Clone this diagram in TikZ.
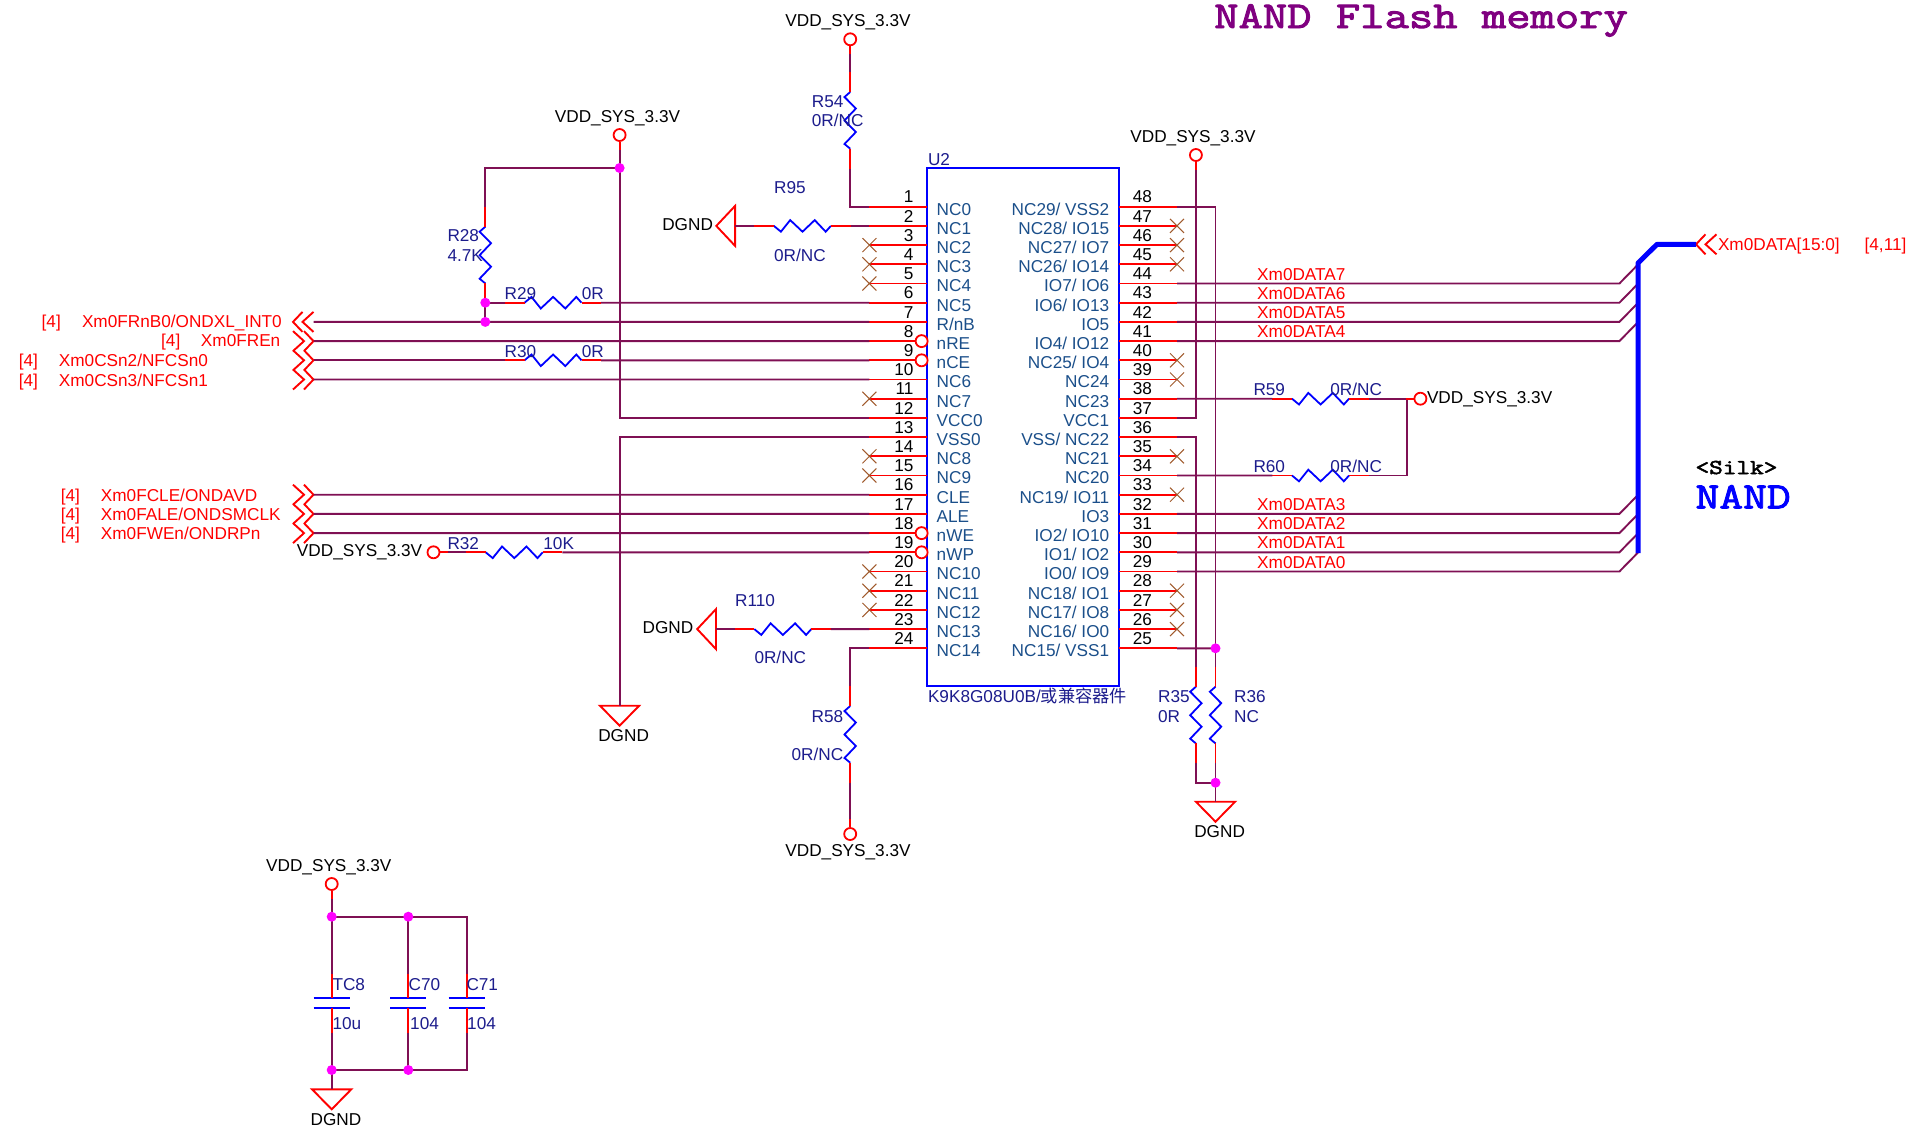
\documentclass[tikz,border=0pt]{standalone}
\usepackage{fontspec}
\setmainfont{Liberation Sans}
\newfontfamily\cjk{Noto Sans CJK SC}
\newfontfamily\slab[FakeStretch=1.25,FakeBold=2.5]{Latin Modern Mono}
\usepackage{tikz}
\usetikzlibrary{shapes.misc}
\definecolor{wirec}{HTML}{7F1054}
\definecolor{refc}{HTML}{1C1C8C}
\definecolor{namec}{HTML}{1B4F8A}
\definecolor{ncc}{HTML}{A05A2C}
\definecolor{titlec}{HTML}{800080}
\definecolor{dotc}{HTML}{FF00FF}
\newcommand{\piny}[1]{206.7+19.2*(#1-1)}
\tikzstyle{wire}=[draw=wirec, line width=1.9pt]
\tikzstyle{stub}=[draw=red, line width=1.9pt]
\tikzstyle{part}=[draw=blue, line width=1.8pt]
\tikzstyle{sv}=[circle, fill=dotc, inner sep=0pt, minimum size=10pt]
\tikzstyle{osv}=[circle, draw=red, fill=white, line width=1.8pt, inner sep=0pt, minimum size=12pt]
\tikzstyle{nc}=[cross out, draw=ncc, line width=1pt, inner sep=0pt, minimum size=13pt]
\tikzstyle{lab}=[inner sep=0pt, text height=12.3pt, text depth=0pt, font=\fontsize{17.2}{20}\selectfont]
\tikzstyle{pinnum}=[lab, text=black]
\tikzstyle{pinname}=[lab, text=namec]
\tikzstyle{reflab}=[lab, text=refc]
\tikzstyle{netlab}=[lab, text=black]
\tikzstyle{siglab}=[lab, text=red]
\tikzset{
  pics/resh/.style={code={
    \draw[part] (0,0) -- (7,5.8) -- (16.3,-5.8) -- (28.6,5.8) -- (40.8,-5.8) -- (51.8,5.8) -- (57,0);
    \coordinate (-a) at (-19.6,0);
    \coordinate (-b) at (76.6,0);
    \draw[stub] (-a) -- (0,0) (57,0) -- (-b);
  }},
  pics/resv/.style={code={
    \draw[part] (0,0) -- (-5.7,5) -- (5.7,16.5) -- (-5.7,28.5) -- (5.7,40) -- (-5.7,52) -- (0,56.7);
    \coordinate (-a) at (0,-20);
    \coordinate (-b) at (0,76.7);
    \draw[stub] (-a) -- (0,0) (0,56.7) -- (-b);
  }},
  pics/capv/.style={code={
    \draw[part] (-18,-5) -- (18,-5) (-18,5) -- (18,5);
    \coordinate (-a) at (0,-28.4);
    \coordinate (-b) at (0,30);
    \draw[stub] (-a) -- (0,-5) (0,5) -- (-b);
  }},
  pics/gnd/.style={code={
    \coordinate (-p) at (0,0);
    \draw[stub] (-19.6,0) -- (19.6,0) -- (0,20) -- cycle;
  }},
  pics/gndl/.style={code={
    \coordinate (-p) at (0,0);
    \draw[stub] (0,-20) -- (0,20) -- (-18.8,0) -- cycle;
  }},
  pics/offp/.style={code={
    \coordinate (-tip) at (0,0);
    \coordinate (-back) at (-20.5,0);
    \draw[stub] (-9.5,-10) -- (0,0) -- (-9.5,10) (-20.5,-10) -- (-9.5,0) -- (-20.5,10);
  }}
}
\begin{document}
\begin{tikzpicture}
[x=1pt, y=-1pt]
\useasboundingbox (0,0) rectangle (1921,1136);
\draw[part, line width=2pt] (927.3,168.3) rectangle (1118.8,686);
\foreach \n/\t in {1/NC0,2/NC1,3/NC2,4/NC3,5/NC4,6/NC5,7/{R/nB},8/nRE,9/nCE,10/NC6,11/NC7,12/VCC0,13/VSS0,14/NC8,15/NC9,16/CLE,17/ALE,18/nWE,19/nWP,20/NC10,21/NC11,22/NC12,23/NC13,24/NC14} {
  \coordinate (LP\n) at (927.3,{\piny{\n}});
  \coordinate (LS\n) at (869.4,{\piny{\n}});
  \draw[stub] (LS\n) -- (LP\n);
  \node[pinnum, anchor=east] (lnum\n) at (913.7,{\piny{\n}-10}) {\n};
  \node[pinname, anchor=west] (lname\n) at (936.5,{\piny{\n}+2.2}) {\t};
}
\foreach \n/\t in {48/{NC29/ VSS2},47/{NC28/ IO15},46/{NC27/ IO7},45/{NC26/ IO14},44/{IO7/ IO6},43/{IO6/ IO13},42/IO5,41/{IO4/ IO12},40/{NC25/ IO4},39/NC24,38/NC23,37/VCC1,36/{VSS/ NC22},35/NC21,34/NC20,33/{NC19/ IO11},32/IO3,31/{IO2/ IO10},30/{IO1/ IO2},29/{IO0/ IO9},28/{NC18/ IO1},27/{NC17/ IO8},26/{NC16/ IO0},25/{NC15/ VSS1}} {
  \coordinate (RP\n) at (1118.8,{\piny{49-\n}});
  \coordinate (RS\n) at (1177,{\piny{49-\n}});
  \draw[stub] (RP\n) -- (RS\n);
  \node[pinnum, anchor=west] (rnum\n) at (1132.7,{\piny{49-\n}-10}) {\n};
  \node[pinname, anchor=east] (rname\n) at (1109.4,{\piny{49-\n}+2.2}) {\t};
}
\foreach \n in {8,9,18,19} \node[osv] (inv\n) at (921.6,{\piny{\n}}) {};
\foreach \n in {3,4,5,11,14,15,20,21,22} \node[nc] (xl\n) at (LS\n) {};
\foreach \n in {47,46,45,40,39,35,33,28,27,26} \node[nc] (xr\n) at (RS\n) {};
\node[reflab, anchor=west] (U2) at (927.8,159) {U2};
\node[reflab, anchor=west] (partno) at (927.8,696) {K9K8G08U0B/{\cjk 或兼容器件}};

\node[osv] (V1) at (850.2,39.3) {};
\node[osv] (V2) at (619.6,135) {};
\node[osv] (V3) at (433.5,552.3) {};
\node[osv] (V4) at (850.2,834) {};
\node[osv] (V5) at (1195.9,155) {};
\node[osv] (V6) at (1420.4,398.7) {};
\node[osv] (V7) at (331.7,884) {};
\node[netlab] (nV1) at (848,20) {VDD\_SYS\_3.3V};
\node[netlab] (nV2) at (617.5,116) {VDD\_SYS\_3.3V};
\node[netlab, anchor=east] (nV3) at (422.4,550) {VDD\_SYS\_3.3V};
\node[netlab] (nV4) at (848,850) {VDD\_SYS\_3.3V};
\node[netlab] (nV5) at (1193,136) {VDD\_SYS\_3.3V};
\node[netlab, anchor=west] (nV6) at (1426.8,397) {VDD\_SYS\_3.3V};
\node[netlab] (nV7) at (328.8,865) {VDD\_SYS\_3.3V};

\pic (R54) at (850.2,92) {resv};
\pic (R58) at (850.2,706) {resv};
\pic (R28) at (485.3,226.7) {resv};
\pic (R35) at (1195.9,686.7) {resv};
\pic (R36) at (1215.5,686.7) {resv};
\pic (R95) at (773.9,225.9) {resh};
\pic (R110) at (754.3,629.1) {resh};
\pic (R32) at (485.7,552.3) {resh};
\pic (R59) at (1292,398.7) {resh};
\pic (R60) at (1292,475.5) {resh};
\pic[yscale=-1] (R29) at (524.5,302.7) {resh};
\pic[yscale=-1] (R30) at (524.5,360.3) {resh};
\node[reflab, anchor=west] (tR54) at (811.7,101) {R54};
\node[reflab, anchor=west] (vR54) at (811.7,120) {0R/NC};
\node[reflab, anchor=east] (tR58) at (843.4,716) {R58};
\node[reflab, anchor=east] (vR58) at (843.4,754) {0R/NC};
\node[reflab, anchor=west] (tR28) at (447.3,235) {R28};
\node[reflab, anchor=west] (vR28) at (447.3,255) {4.7K};
\node[reflab, anchor=west] (tR35) at (1157.9,696) {R35};
\node[reflab, anchor=west] (vR35) at (1157.9,716) {0R};
\node[reflab, anchor=west] (tR36) at (1233.9,696) {R36};
\node[reflab, anchor=west] (vR36) at (1233.9,716) {NC};
\node[reflab, anchor=west] (tR95) at (773.9,187) {R95};
\node[reflab, anchor=west] (vR95) at (773.9,255) {0R/NC};
\node[reflab, anchor=west] (tR110) at (735,600) {R110};
\node[reflab, anchor=west] (vR110) at (754.3,657.7) {0R/NC};
\node[reflab, anchor=west] (tR32) at (447.3,543) {R32};
\node[reflab, anchor=west] (vR32) at (543.2,543) {10K};
\node[reflab, anchor=west] (tR59) at (1253.3,389) {R59};
\node[reflab, anchor=west] (vR59) at (1330.2,389) {0R/NC};
\node[reflab, anchor=west] (tR60) at (1253.3,466) {R60};
\node[reflab, anchor=west] (vR60) at (1330.2,466) {0R/NC};
\node[reflab, anchor=west] (tR29) at (504.4,293) {R29};
\node[reflab, anchor=west] (vR29) at (581.6,293) {0R};
\node[reflab, anchor=west] (tR30) at (504.4,351) {R30};
\node[reflab, anchor=west] (vR30) at (581.6,351) {0R};

\pic (G1) at (619.6,705.7) {gnd};
\pic (G2) at (1215.5,801.7) {gnd};
\pic (G3) at (331.7,1089.3) {gnd};
\pic (G4) at (735.1,225.9) {gndl};
\pic (G5) at (716,629.1) {gndl};
\node[netlab] (nG1) at (623.6,735) {DGND};
\node[netlab] (nG2) at (1219.6,831) {DGND};
\node[netlab] (nG3) at (336,1119.3) {DGND};
\node[netlab] (nG4) at (687.6,224) {DGND};
\node[netlab] (nG5) at (668,627) {DGND};

\pic[xscale=-1] (C7) at (293,321.9) {offp};
\pic (C8) at (313.5,341.1) {offp};
\pic (C9) at (313.5,360.3) {offp};
\pic (C10) at (313.5,379.5) {offp};
\pic (C16) at (313.5,494.7) {offp};
\pic (C17) at (313.5,513.9) {offp};
\pic (C18) at (313.5,533.1) {offp};
\pic[xscale=-1] (Cbus) at (1696,244.3) {offp};
\node[siglab, anchor=west] (p7) at (41.5,321.7) {[4]};
\node[siglab, anchor=east] (s7) at (282,321.7) {Xm0FRnB0/ONDXL\_INT0};
\node[siglab, anchor=west] (p8) at (161,340.7) {[4]};
\node[siglab, anchor=east] (s8) at (280.5,340.7) {Xm0FREn};
\node[siglab, anchor=west] (p9) at (18.7,360) {[4]};
\node[siglab, anchor=west] (s9) at (58.7,360) {Xm0CSn2/NFCSn0};
\node[siglab, anchor=west] (p10) at (18.7,380) {[4]};
\node[siglab, anchor=west] (s10) at (58.7,380) {Xm0CSn3/NFCSn1};
\node[siglab, anchor=west] (p16) at (60.7,495) {[4]};
\node[siglab, anchor=west] (s16) at (100.7,495) {Xm0FCLE/ONDAVD};
\node[siglab, anchor=west] (p17) at (60.7,514) {[4]};
\node[siglab, anchor=west] (s17) at (100.7,514) {Xm0FALE/ONDSMCLK};
\node[siglab, anchor=west] (p18) at (60.7,533.3) {[4]};
\node[siglab, anchor=west] (s18) at (100.7,533.3) {Xm0FWEn/ONDRPn};
\node[siglab, anchor=west] (sbus) at (1717.8,244.7) {Xm0DATA[15:0]};
\node[siglab, anchor=west] (pbus) at (1864.4,244.7) {[4,11]};

\coordinate (J1) at (619.6,168);
\coordinate (J2) at (485.3,302.7);
\coordinate (J3) at (485.3,321.9);
\coordinate (J4) at (1215.5,648.3);
\coordinate (J5) at (1215.5,782.7);
\coordinate (K1) at (1407.4,398.7);
\draw[wire] (V1.south) -- (R54-a);
\draw[wire] (R54-b) |- (LS1);
\draw[wire] (G4-p) -- (R95-a);
\draw[wire] (R95-b) -- (LS2);
\draw[wire] (V2.south) -- (J1);
\draw[wire] (J1) -| (R28-a);
\draw[wire] (J1) |- (LS12);
\draw[wire] (J2) -- (J3);
\draw[wire] (J2) -- (R29-a);
\draw[wire] (R29-b) -- (LS6);
\draw[wire] (C7-back) -- (LS7);
\draw[wire] (C8-tip) -- (LS8);
\draw[wire] (C9-tip) -- (R30-a);
\draw[wire] (R30-b) -- (LS9);
\draw[wire] (C10-tip) -- (LS10);
\draw[wire] (LS13) -| (G1-p);
\draw[wire] (C16-tip) -- (LS16);
\draw[wire] (C17-tip) -- (LS17);
\draw[wire] (C18-tip) -- (LS18);
\draw[wire] (V3.east) -- (R32-a);
\draw[wire] (R32-b) -- (LS19);
\draw[wire] (G5-p) -- (R110-a);
\draw[wire] (R110-b) -- (LS23);
\draw[wire] (LS24) -| (R58-a);
\draw[wire] (R58-b) -- (V4.north);
\draw[wire] (RS48) -| (J4);
\draw[wire] (RS25) -- (J4);
\draw[wire] (J4) -- (R36-a);
\draw[wire] (R36-b) -- (J5);
\draw[wire] (J5) -- (G2-p);
\draw[wire] (RS37) -| (V5.south);
\draw[wire] (RS36) -| (R35-a);
\draw[wire] (R35-b) |- (J5);
\draw[wire] (RS38) -- (R59-a);
\draw[wire] (R59-b) -- (V6.west);
\draw[wire] (RS34) -- (R60-a);
\draw[wire] (R60-b) -| (K1);
\foreach \n/\b in {44/7,43/6,42/5,41/4,32/3,31/2,30/1,29/0} {
  \coordinate (E\b) at (1638,{\piny{49-\n}-19});
  \draw[wire] (RS\n) -- (1619.4,{\piny{49-\n}}) -- (E\b);
  \node[siglab, anchor=west] (d\b) at (1257,{\piny{49-\n}-9.5}) {Xm0DATA\b};
}
\coordinate (B1) at (1638,553);
\coordinate (B2) at (1638,263);
\coordinate (B3) at (1657,244.3);
\draw[part, line width=5pt, line join=round] (B1) -- (B2) -- (B3) -- (Cbus-tip);

\pic (TC8) at (331.7,1002.7) {capv};
\pic (C70) at (408.3,1002.7) {capv};
\pic (C71) at (466.7,1002.7) {capv};
\coordinate (J6) at (331.7,916.7);
\coordinate (J7) at (408.3,916.7);
\coordinate (J8) at (331.7,1070);
\coordinate (J9) at (408.3,1070);
\draw[wire] (V7.south) -- (J6);
\draw[wire] (J6) -- (J7);
\draw[wire] (J7) -| (C71-a);
\draw[wire] (J6) -- (TC8-a);
\draw[wire] (J7) -- (C70-a);
\draw[wire] (TC8-b) -- (J8);
\draw[wire] (C70-b) -- (J9);
\draw[wire] (J8) -- (J9);
\draw[wire] (J9) -| (C71-b);
\draw[wire] (J8) -- (G3-p);
\node[reflab, anchor=west] (tTC8) at (332.3,984) {TC8};
\node[reflab, anchor=west] (vTC8) at (332.3,1023) {10u};
\node[reflab, anchor=west] (tC70) at (408.5,984) {C70};
\node[reflab, anchor=west] (vC70) at (410,1023) {104};
\node[reflab, anchor=west] (tC71) at (466.3,984) {C71};
\node[reflab, anchor=west] (vC71) at (467,1023) {104};

\foreach \j in {J1,J2,J3,J4,J5,J6,J7,J8,J9} \node[sv] (d\j) at (\j) {};

\foreach \v in {V1,V2,V5,V7} \draw[stub] (\v.south) -- ++(0,8);
\draw[stub] (V4.north) -- ++(0,-8);
\draw[stub] (V3.east) -- ++(8,0);
\draw[stub] (V6.west) -- ++(-8,0);

\node[anchor=base west, inner sep=0pt, text=titlec, font=\fontsize{37.8}{44}\selectfont\slab] (title) at (1214,28) {NAND Flash memory};
\node[anchor=base west, inner sep=0pt, text=black, font=\fontsize{21.2}{26}\selectfont\slab] (silk) at (1695.3,474) {<Silk>};
\node[anchor=base west, inner sep=0pt, text=blue, font=\fontsize{37}{44}\selectfont\slab] (nand) at (1695.3,508.3) {NAND};
\end{tikzpicture}
\end{document}
